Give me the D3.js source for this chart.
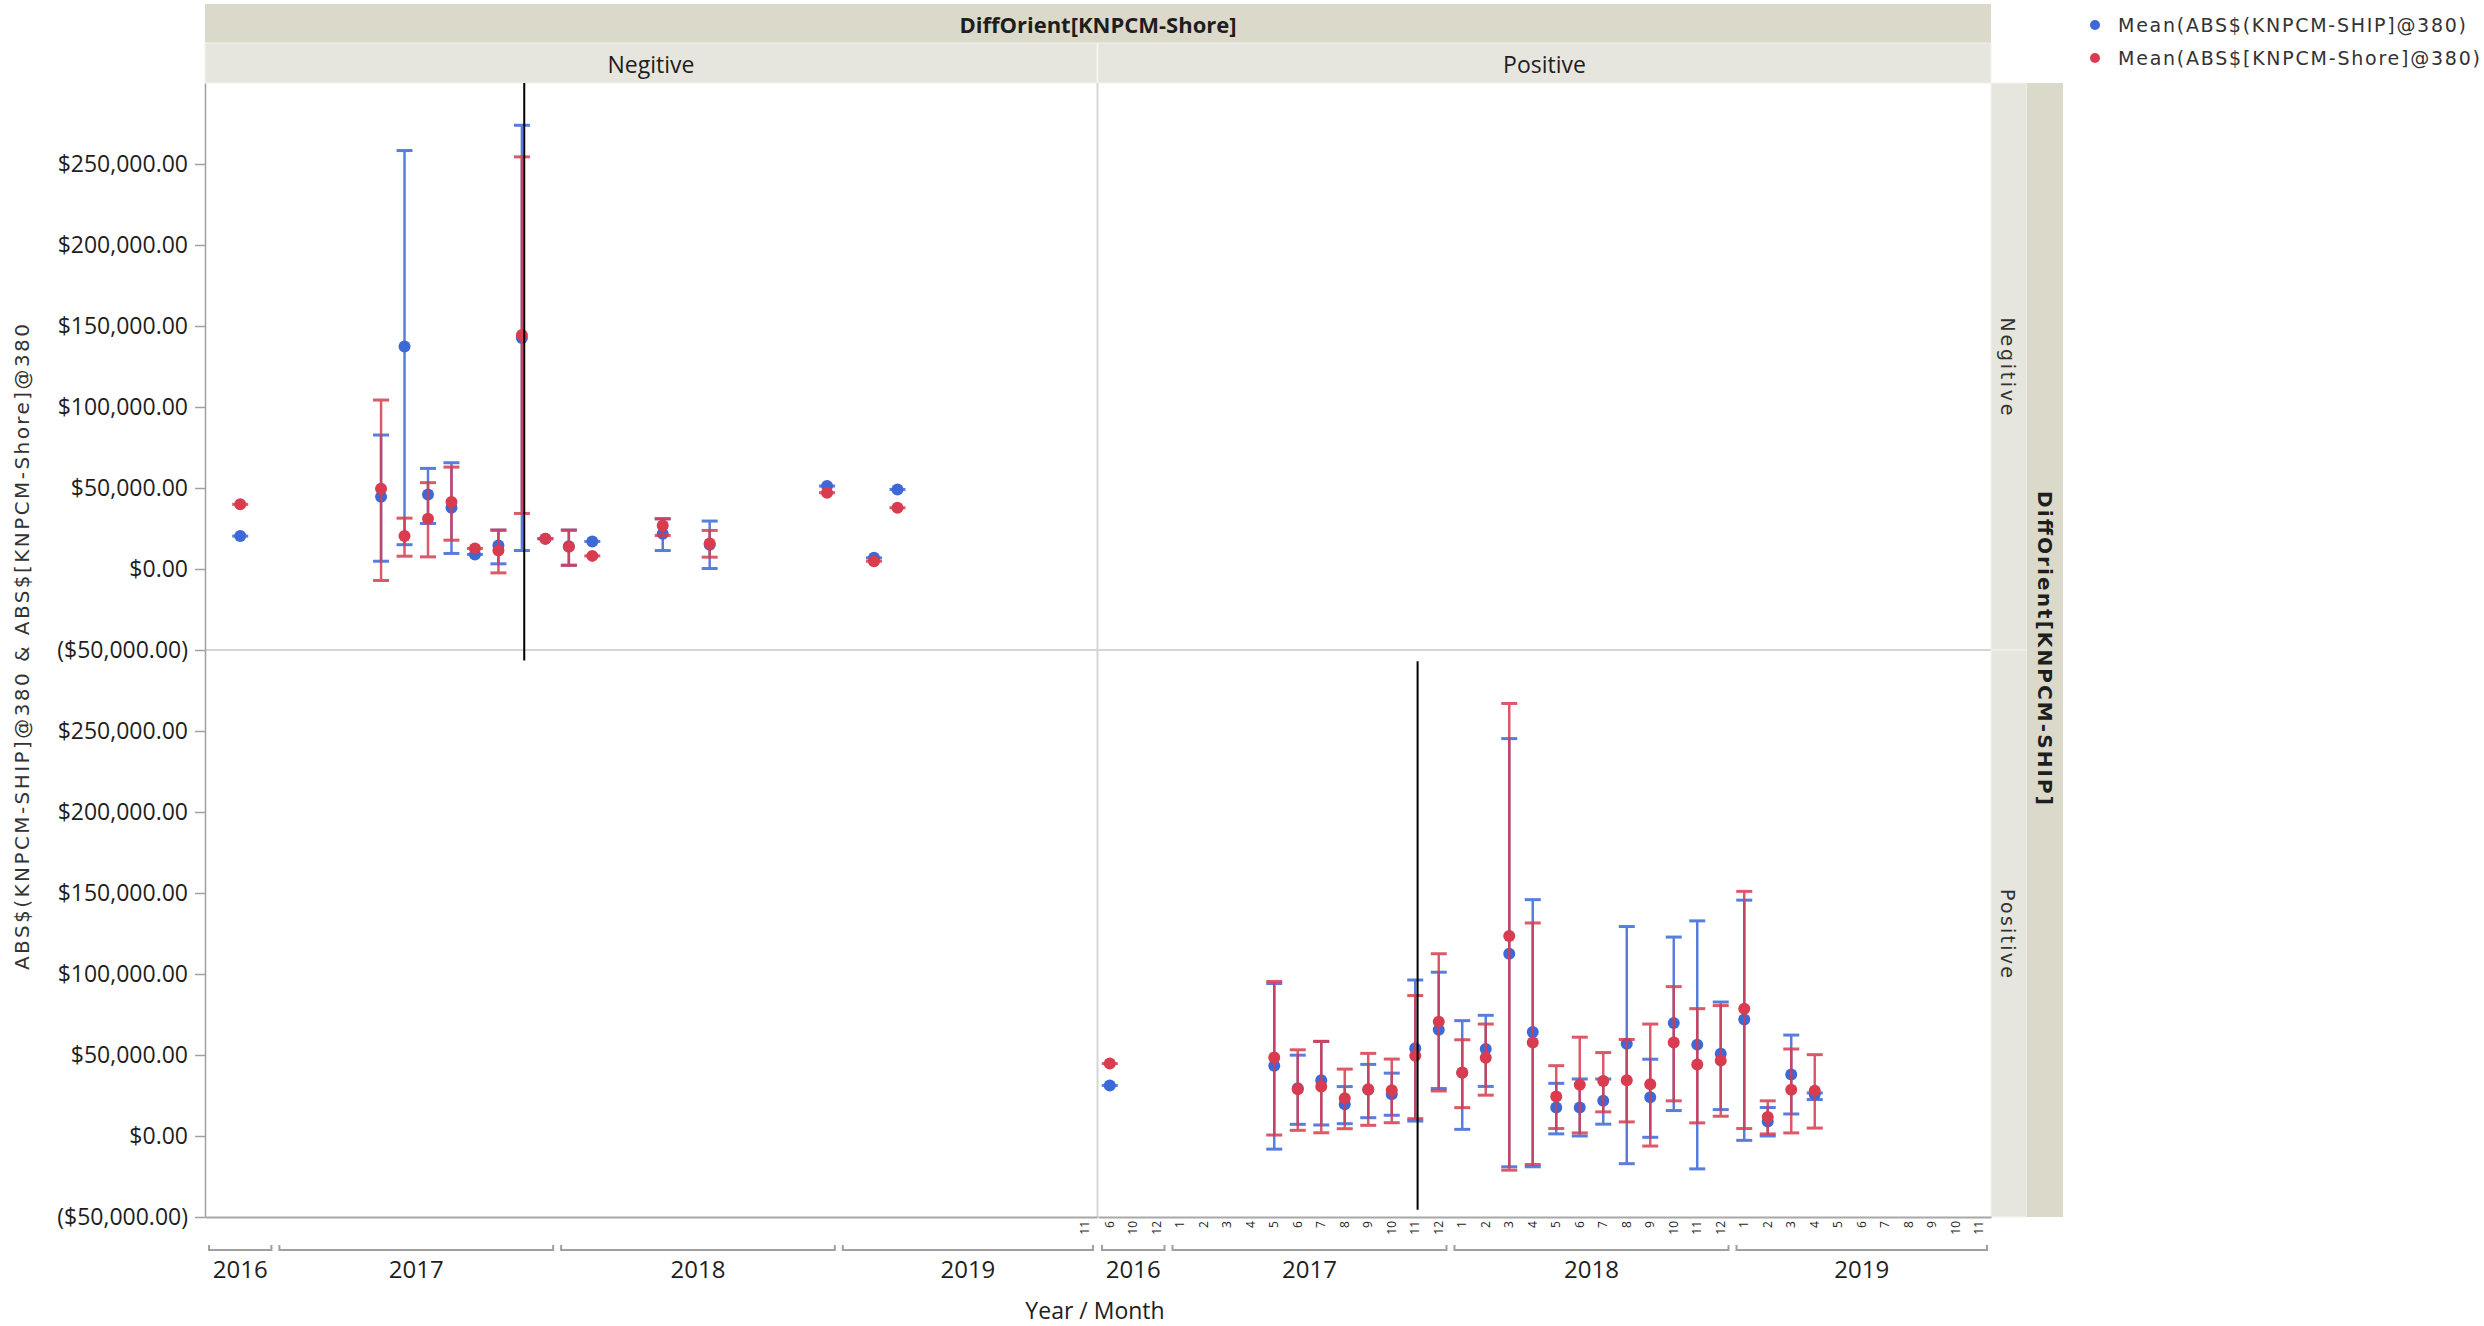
<!DOCTYPE html>
<html>
<head>
<meta charset="utf-8">
<script src="https://cdn.jsdelivr.net/npm/d3@7"></script>
<style>
  body { margin: 0; background: #fff; }
  svg text { font-family: "Open Sans", "Noto Sans", sans-serif; fill: #1e1e1e; }
</style>
</head>
<body>
<svg id="chart" width="2484" height="1326"></svg>
<script>
// ---- data ----
const years = ["2016", "2017", "2018", "2019"];
const yearMonths = [
  [6, 10, 12],
  [1, 2, 3, 4, 5, 6, 7, 8, 9, 10, 11, 12],
  [1, 2, 3, 4, 5, 6, 7, 8, 9, 10, 11, 12],
  [1, 2, 3, 4, 5, 6, 7, 8, 9, 10, 11]
];
const rowLevels = ["Negitive", "Positive"];   // DiffOrient[KNPCM-SHIP]
const colLevels = ["Negitive", "Positive"];   // DiffOrient[KNPCM-Shore]
const yTicks = [-50000, 0, 50000, 100000, 150000, 200000, 250000];

// SHIP Negitive / Shore Negitive
const nnCats = ["2016-10", "2017-5", "2017-6", "2017-7", "2017-8", "2017-9", "2017-10", "2017-11",
  "2017-12", "2018-1", "2018-2", "2018-5", "2018-7", "2018-12", "2019-2", "2019-3"];
const nnShipMean = [20300, 44600, 137400, 46000, 37800, 9000, 14500, 142600, 18700, 14000, 17000, 21700, 15000, 51200, 6900, 49100];
const nnShipLo   = [20300, 4800, 15000, 28100, 9600, 9000, 3200, 11400, 18700, 2300, 17000, 11400, 300, 51200, 6900, 49100];
const nnShipHi   = [20300, 82700, 258300, 62100, 65600, 9000, 24000, 273900, 18700, 24000, 17000, 31000, 29600, 51200, 6900, 49100];
const nnShoreMean = [39900, 49600, 20300, 31000, 41300, 12700, 11400, 144400, 18700, 13700, 8100, 26900, 15800, 47100, 4800, 37800];
const nnShoreLo   = [39900, -7100, 7900, 7500, 17800, 12700, -2400, 34300, 18700, 2300, 8100, 20700, 7300, 47100, 4800, 37800];
const nnShoreHi   = [39900, 104300, 31400, 53300, 62900, 12700, 24000, 254400, 18700, 24000, 8100, 31000, 23800, 47100, 4800, 37800];

// SHIP Positive / Shore Positive
const ppCats = ["2016-6", "2017-5", "2017-6", "2017-7", "2017-8", "2017-9", "2017-10", "2017-11", "2017-12",
  "2018-1", "2018-2", "2018-3", "2018-4", "2018-5", "2018-6", "2018-7", "2018-8", "2018-9", "2018-10",
  "2018-11", "2018-12", "2019-1", "2019-2", "2019-3", "2019-4"];
const ppShipMean = [31200, 43300, 29500, 34400, 19600, 28500, 25800, 54100, 65600, 39000, 53700, 112500, 64200,
  17600, 17600, 21700, 56900, 23900, 69700, 56400, 50700, 71900, 9000, 38000, 25800];
const ppShipLo = [31200, -8100, 7200, 6800, 7600, 11300, 12800, 9200, 29300, 4100, 30600, -19000, -19000,
  1300, 0, 7300, -17100, -800, 15700, -20300, 16300, -2700, 0, 13600, 22500];
const ppShipHi = [31200, 94100, 49900, 58400, 30500, 44200, 38800, 96300, 101100, 71200, 74500, 245300, 145900,
  32500, 35200, 35200, 129300, 47400, 122800, 132800, 82700, 145600, 17600, 62300, 26600];
const ppShoreMean = [44700, 48500, 28900, 30500, 23300, 28900, 28300, 49500, 70600, 39200, 48300, 123400, 57700,
  24400, 31700, 33900, 34400, 32000, 57700, 44200, 46600, 78600, 11700, 28500, 27900];
const ppShoreLo = [44700, 600, 3500, 2000, 4500, 6600, 8200, 10700, 27800, 17500, 25200, -21100, -17600,
  4600, 1900, 14900, 8700, -6200, 21700, 8100, 12200, 4600, 1300, 1900, 4900];
const ppShoreHi = [44700, 95400, 53200, 58400, 41300, 51000, 47500, 86700, 112500, 59400, 69100, 267000, 131500,
  43400, 61000, 51500, 59600, 69100, 92200, 78600, 80500, 151000, 21700, 53700, 50200];

// black reference lines (row, col, category, value range)
const markerLines = [
  {row: 0, col: 0, cat: "2017-11", top: 300000, bottom: -56500},
  {row: 1, col: 1, cat: "2017-11", top: 293000, bottom: -45500}
];

// ---- layout ----
const cats = years.flatMap((y, i) => yearMonths[i].map(m => `${y}-${m}`));
const cols = [{x0: 205, x1: 1097}, {x0: 1098, x1: 1991}];
const rows = [{y0: 83, y1: 650}, {y0: 650, y1: 1217}];
const blue = "#3c68d8", red = "#d83c4e";

const svg = d3.select("#chart");

const xScales = cols.map(c => d3.scaleBand().domain(cats).range([c.x0, c.x1]));
const yScales = rows.map(r => d3.scaleLinear().domain([-50000, 300000]).range([r.y1, r.y0]));

// strips (top)
svg.append("rect").attr("x", 205).attr("y", 4).attr("width", 1786).attr("height", 39).attr("fill", "#dbd9ca");
cols.forEach((c, i) => {
  svg.append("rect").attr("x", c.x0).attr("y", 43).attr("width", c.x1 - c.x0).attr("height", 40)
    .attr("fill", "#e7e6de").attr("stroke", "#f3f2ec").attr("stroke-width", 1);
  svg.append("text").attr("x", (c.x0 + c.x1) / 2).attr("y", 64)
    .attr("text-anchor", "middle").attr("dominant-baseline", "central")
    .style("font-size", "23px").text(colLevels[i]);
});
svg.append("text").attr("x", 1098).attr("y", 24)
  .attr("text-anchor", "middle").attr("dominant-baseline", "central")
  .style("font-size", "22px").style("font-weight", "bold").text("DiffOrient[KNPCM-Shore]");

// strips (right)
rows.forEach((r, i) => {
  svg.append("rect").attr("x", 1991).attr("y", r.y0).attr("width", 36).attr("height", r.y1 - r.y0)
    .attr("fill", "#e7e6de").attr("stroke", "#f3f2ec").attr("stroke-width", 1);
  svg.append("text")
    .attr("transform", `translate(2008, ${(r.y0 + r.y1) / 2}) rotate(90)`)
    .attr("text-anchor", "middle").attr("dominant-baseline", "central")
    .attr("textLength", i === 0 ? 98 : 89).attr("lengthAdjust", "spacing")
    .style("font-family", "DejaVu Sans").style("font-size", "19px").style("fill", "#333")
    .text(rowLevels[i]);
});
svg.append("rect").attr("x", 2027).attr("y", 83).attr("width", 36).attr("height", 1134).attr("fill", "#dbd9ca");
svg.append("text")
  .attr("transform", "translate(2045, 648) rotate(90)")
  .attr("text-anchor", "middle").attr("dominant-baseline", "central")
  .attr("textLength", 314).attr("lengthAdjust", "spacing")
  .style("font-family", "DejaVu Sans").style("font-size", "20px").style("font-weight", "bold")
  .text("DiffOrient[KNPCM-SHIP]");

// panel separators
svg.append("line").attr("x1", 205).attr("x2", 1991).attr("y1", 650).attr("y2", 650)
  .attr("stroke", "#d6d6d6").attr("stroke-width", 2);
svg.append("line").attr("x1", 1097.5).attr("x2", 1097.5).attr("y1", 83).attr("y2", 1217)
  .attr("stroke", "#d6d6d6").attr("stroke-width", 2);

// y axes
const yFmt = d3.format("$,.2f");
rows.forEach((r, i) => {
  const g = svg.append("g").attr("transform", "translate(205,0)")
    .call(d3.axisLeft(yScales[i]).tickValues(yTicks).tickSize(10).tickSizeOuter(0).tickPadding(7)
      .tickFormat(v => v < 0 ? `(${yFmt(-v)})` : yFmt(v)));
  g.selectAll("text").style("font-size", "23px").style("font-family", "Open Sans, sans-serif").attr("fill", "#1e1e1e");
  g.selectAll("line, path").attr("stroke", "#a0a0a0").attr("stroke-width", 1.5);
});

// x axes (month labels + bottom line)
cols.forEach((c, i) => {
  const xs = xScales[i];
  const g = svg.append("g").attr("transform", "translate(0,1217)")
    .call(d3.axisBottom(xs).tickSize(0).tickSizeOuter(0)
      .tickValues(i === 0 ? [cats[cats.length - 1]] : cats)
      .tickFormat(d => d.split("-")[1]));
  g.select(".domain").attr("stroke", "#a8a8a8").attr("stroke-width", 2);
  g.selectAll("text")
    .attr("transform", "rotate(-90)")
    .attr("text-anchor", "end").attr("x", -4).attr("y", 0).attr("dy", "0.35em")
    .style("font-size", "12px").style("font-family", "Open Sans, sans-serif").attr("fill", "#333");

  // year brackets
  years.forEach((y, k) => {
    const first = `${y}-${yearMonths[k][0]}`;
    const last = `${y}-${yearMonths[k][yearMonths[k].length - 1]}`;
    const bx0 = xs(first) + 4, bx1 = xs(last) + xs.bandwidth() - 4;
    svg.append("path").attr("d", `M${bx0},1245V1250H${bx1}V1245`)
      .attr("fill", "none").attr("stroke", "#a0a0a0").attr("stroke-width", 2);
    svg.append("text").attr("x", (bx0 + bx1) / 2).attr("y", 1268)
      .attr("text-anchor", "middle").attr("dominant-baseline", "central")
      .style("font-size", "24px").text(y);
  });
});

svg.append("text").attr("x", 1095).attr("y", 1310)
  .attr("text-anchor", "middle").attr("dominant-baseline", "central")
  .style("font-size", "23px").text("Year / Month");

svg.append("text")
  .attr("transform", "translate(22, 647) rotate(-90)")
  .attr("text-anchor", "middle").attr("dominant-baseline", "central")
  .attr("textLength", 646).attr("lengthAdjust", "spacing")
  .style("font-family", "DejaVu Sans").style("font-size", "20px").style("fill", "#333")
  .text("ABS$(KNPCM-SHIP]@380 & ABS$[KNPCM-Shore]@380");

// ---- marks ----
const panels = [
  {row: 0, col: 0, cats: nnCats,
    series: [
      {color: blue, mean: nnShipMean, lo: nnShipLo, hi: nnShipHi},
      {color: red, mean: nnShoreMean, lo: nnShoreLo, hi: nnShoreHi}]},
  {row: 1, col: 1, cats: ppCats,
    series: [
      {color: blue, mean: ppShipMean, lo: ppShipLo, hi: ppShipHi},
      {color: red, mean: ppShoreMean, lo: ppShoreLo, hi: ppShoreHi}]}
];

panels.forEach(p => {
  const xs = xScales[p.col], ys = yScales[p.row];
  const cx = c => xs(c) + xs.bandwidth() / 2;
  p.series.forEach(s => {
    const pts = p.cats.map((c, i) => ({c, m: s.mean[i], lo: s.lo[i], hi: s.hi[i]}));
    const g = svg.append("g").attr("stroke", s.color).attr("opacity", 0.85);
    g.selectAll("line.bar").data(pts.filter(d => d.hi > d.lo)).enter().append("line")
      .attr("class", "bar")
      .attr("x1", d => cx(d.c)).attr("x2", d => cx(d.c))
      .attr("y1", d => ys(d.lo)).attr("y2", d => ys(d.hi))
      .attr("stroke-width", 2.5);
    const caps = pts.flatMap(d => d.hi > d.lo ? [{c: d.c, v: d.lo}, {c: d.c, v: d.hi}] : [{c: d.c, v: d.m}]);
    g.selectAll("line.cap").data(caps).enter().append("line")
      .attr("class", "cap")
      .attr("x1", d => cx(d.c) - 8).attr("x2", d => cx(d.c) + 8)
      .attr("y1", d => ys(d.v)).attr("y2", d => ys(d.v))
      .attr("stroke-width", 3);
    svg.append("g").selectAll("circle").data(pts).enter().append("circle")
      .attr("cx", d => cx(d.c)).attr("cy", d => ys(d.m)).attr("r", 6)
      .attr("fill", s.color);
  });
});

markerLines.forEach(m => {
  const xs = xScales[m.col], ys = yScales[m.row];
  const x = xs(m.cat) + xs.bandwidth() * 0.6;
  svg.append("line").attr("x1", x).attr("x2", x)
    .attr("y1", ys(m.top)).attr("y2", ys(m.bottom))
    .attr("stroke", "#000").attr("stroke-width", 2);
});

// ---- legend ----
const legendItems = [
  {label: "Mean(ABS$(KNPCM-SHIP]@380)", color: blue, len: 348},
  {label: "Mean(ABS$[KNPCM-Shore]@380)", color: red, len: 362}
];
const legend = svg.append("g").attr("transform", "translate(2095, 25)");
legend.selectAll("circle").data(legendItems).enter().append("circle")
  .attr("cx", 0).attr("cy", (d, i) => i * 33).attr("r", 5).attr("fill", d => d.color);
legend.selectAll("text").data(legendItems).enter().append("text")
  .attr("x", 23).attr("y", (d, i) => i * 33).attr("dominant-baseline", "central")
  .attr("textLength", d => d.len).attr("lengthAdjust", "spacing")
  .style("font-family", "DejaVu Sans").style("font-size", "19px").style("fill", "#333")
  .text(d => d.label);
</script>
</body>
</html>
